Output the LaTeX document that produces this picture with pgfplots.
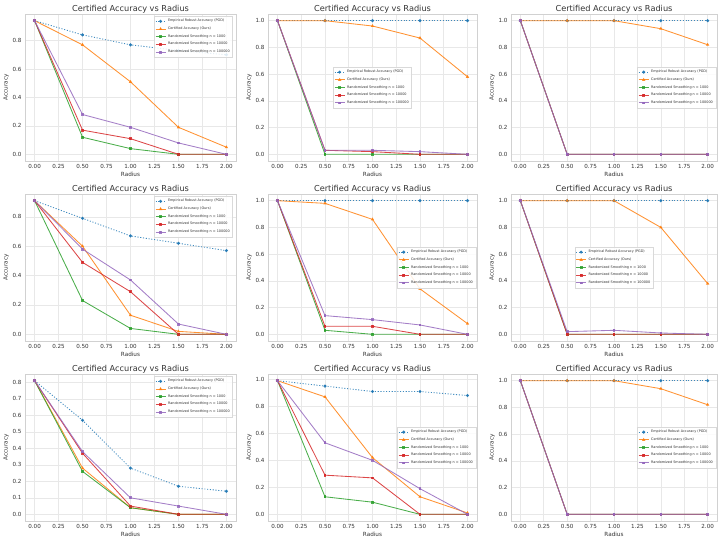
\documentclass[border=0pt]{standalone}
\usepackage{pgfplots}
\pgfplotsset{compat=1.18}
\usepackage{pgfplotstable}
\usepackage{fontspec}
\setmainfont{DejaVu Sans}
\definecolor{cB}{HTML}{1F77B4}
\definecolor{cO}{HTML}{FF7F0E}
\definecolor{cG}{HTML}{2CA02C}
\definecolor{cR}{HTML}{D62728}
\definecolor{cP}{HTML}{9467BD}
\definecolor{txt}{HTML}{333333}

\pgfplotstableread{
r pgd ours a b c
0.0 0.94 0.94 0.94 0.94 0.94
0.5 0.84 0.77 0.12 0.17 0.28
1.0 0.77 0.51 0.04 0.11 0.19
1.5 0.73 0.19 0.00 0.00 0.08
2.0 0.70 0.05 0.00 0.00 0.00
}\tA
\pgfplotstableread{
r pgd ours a b c
0.0 1.00 1.00 1.00 1.00 1.00
0.5 1.00 1.00 0.00 0.03 0.03
1.0 1.00 0.96 0.00 0.02 0.03
1.5 1.00 0.87 0.00 0.00 0.02
2.0 1.00 0.58 0.00 0.00 0.00
}\tB
\pgfplotstableread{
r pgd ours a b c
0.0 1.00 1.00 1.00 1.00 1.00
0.5 1.00 1.00 0.00 0.00 0.00
1.0 1.00 1.00 0.00 0.00 0.00
1.5 1.00 0.94 0.00 0.00 0.00
2.0 1.00 0.82 0.00 0.00 0.00
}\tC
\pgfplotstableread{
r pgd ours a b c
0.0 0.91 0.91 0.91 0.91 0.91
0.5 0.79 0.60 0.23 0.49 0.58
1.0 0.67 0.13 0.04 0.29 0.37
1.5 0.62 0.02 0.00 0.00 0.07
2.0 0.57 0.00 0.00 0.00 0.00
}\tD
\pgfplotstableread{
r pgd ours a b c
0.0 1.00 1.00 1.00 1.00 1.00
0.5 1.00 0.98 0.03 0.06 0.14
1.0 1.00 0.86 0.00 0.06 0.11
1.5 1.00 0.34 0.00 0.00 0.07
2.0 1.00 0.08 0.00 0.00 0.00
}\tE
\pgfplotstableread{
r pgd ours a b c
0.0 1.00 1.00 1.00 1.00 1.00
0.5 1.00 1.00 0.00 0.00 0.02
1.0 1.00 1.00 0.00 0.00 0.03
1.5 1.00 0.80 0.00 0.00 0.01
2.0 1.00 0.38 0.00 0.00 0.00
}\tF
\pgfplotstableread{
r pgd ours a b c
0.0 0.81 0.81 0.81 0.81 0.81
0.5 0.57 0.28 0.26 0.37 0.38
1.0 0.28 0.04 0.04 0.05 0.10
1.5 0.17 0.00 0.00 0.00 0.05
2.0 0.14 0.00 0.00 0.00 0.00
}\tG
\pgfplotstableread{
r pgd ours a b c
0.0 0.99 0.99 0.99 0.99 0.99
0.5 0.95 0.87 0.13 0.29 0.53
1.0 0.91 0.42 0.09 0.27 0.40
1.5 0.91 0.13 0.00 0.00 0.19
2.0 0.88 0.01 0.00 0.00 0.00
}\tH
\pgfplotstableread{
r pgd ours a b c
0.0 1.00 1.00 1.00 1.00 1.00
0.5 1.00 1.00 0.00 0.00 0.00
1.0 1.00 1.00 0.00 0.00 0.00
1.5 1.00 0.94 0.00 0.00 0.00
2.0 1.00 0.82 0.00 0.00 0.00
}\tI

\pgfplotsset{
  panel/.style={
    scale only axis, height=147pt,
    anchor=south west,
    xmin=-0.1, xmax=2.1,
    enlarge y limits=0.05,
    xtick={0,0.25,...,2.01},
    ytick={0,0.2,...,1.01},
    xticklabel style={/pgf/number format/.cd,fixed,fixed zerofill,precision=2},
    yticklabel style={/pgf/number format/.cd,fixed,fixed zerofill,precision=1},
    /pgf/number format/assume math mode=true,
    tick label style={font=\fontsize{5.6}{6.5}\selectfont, text=txt},
    major tick length=0pt,
    grid=major,
    grid style={color=black!9, line width=0.6pt},
    axis line style={color=black!18, line width=0.8pt},
    title={Certified Accuracy vs Radius},
    title style={font=\fontsize{8.2}{9}\selectfont, text=txt, yshift=-9pt},
    xlabel={Radius}, ylabel={Accuracy},
    label style={font=\fontsize{5.7}{6.5}\selectfont, text=txt},
    xlabel style={yshift=3.5pt},
    ylabel style={yshift=-3pt},
    legend cell align=left,
    legend style={font=\fontsize{3.4}{4.1}\selectfont, draw=black!15, fill=white, fill opacity=0.85, text opacity=1, inner sep=0.9pt, row sep=-0.4pt, text=txt},
    legend image code/.code={\draw[mark repeat=2,mark phase=2] plot coordinates {(0pt,0pt)(5pt,0pt)(10pt,0pt)};},
    every axis plot/.append style={line width=0.85pt, mark size=1.1pt, opacity=0.85},
  },
  ur/.style={legend style={at={(0.985,0.985)}, anchor=north east}},
  cc/.style={legend style={at={(0.5,0.5)}, anchor=center}},
  cr/.style={legend style={at={(0.995,0.5)}, anchor=east}},
}

\newcommand\panel[5]{%
\begin{axis}[panel, at={(#1pt,#2pt)}, width=#3pt, #5]
\addplot[cB, dash pattern=on 1.1pt off 1.7pt, mark=*, mark options={solid}] table[x=r,y=pgd]{#4};
\addplot[cO, mark=triangle*, mark options={solid}] table[x=r,y=ours]{#4};
\addplot[cG, mark=square*, mark size=0.9pt] table[x=r,y=a]{#4};
\addplot[cR, mark=square*, mark size=0.9pt] table[x=r,y=b]{#4};
\addplot[cP, mark=square*, mark size=0.9pt] table[x=r,y=c]{#4};
\legend{Empirical Robust Accuracy (PGD), Certified Accuracy (Ours), Randomized Smoothing n = 1000, Randomized Smoothing n = 10000, Randomized Smoothing n = 100000}
\end{axis}}

\begin{document}
\begin{tikzpicture}[x=1pt,y=1pt]
\path[use as bounding box] (0,0) rectangle (727,541);
\panel{25}{380}{211}{\tA}{ur, ytick={0,0.2,...,0.81}}
\panel{268}{380}{209}{\tB}{cc}
\panel{511}{380}{206}{\tC}{cr}
\panel{25}{200}{211}{\tD}{ur, ytick={0,0.2,...,0.81}}
\panel{268}{200}{209}{\tE}{cr}
\panel{511}{200}{206}{\tF}{cc}
\panel{25}{20}{211}{\tG}{ur, ytick={0,0.1,...,0.81}}
\panel{268}{20}{209}{\tH}{cr}
\panel{511}{20}{206}{\tI}{cr}
\end{tikzpicture}
\end{document}
